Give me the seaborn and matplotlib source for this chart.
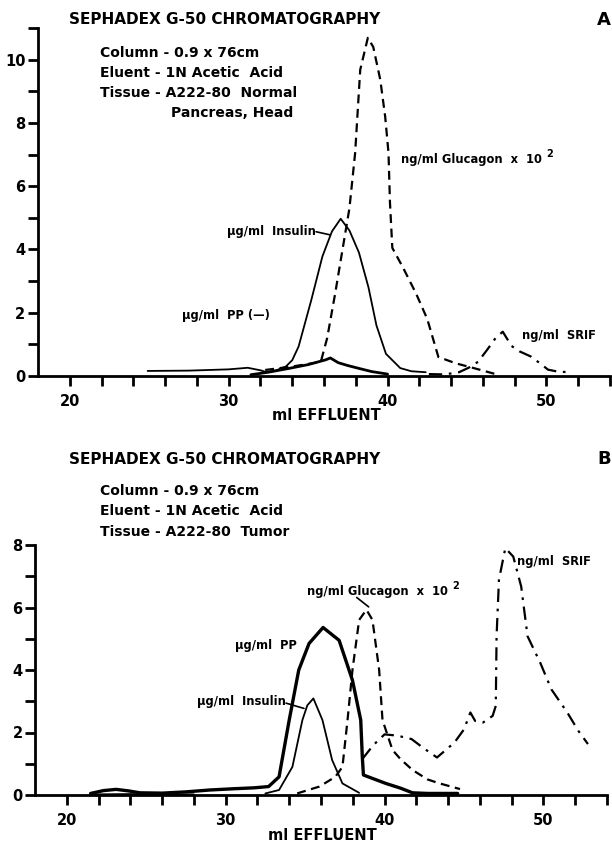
import numpy as np
import pandas as pd
import matplotlib.pyplot as plt
import seaborn as sns
from matplotlib.ticker import MultipleLocator, FixedLocator

sns.set_style("ticks")
plt.rcParams['font.family'] = ['DejaVu Sans']
plt.rcParams['font.weight'] = 'bold'

# ---- Panel A: normal pancreas ----
a_glu_x = [32.3, 34.0, 35.0, 35.8, 36.2, 36.7, 37.2, 37.6, 37.96, 38.28, 38.76, 39.1, 39.54,
           39.85, 40.06, 40.15, 40.3, 41.0, 41.8, 42.5, 43.2, 44.3, 45.5, 46.8]
a_glu_y = [0.19, 0.3, 0.38, 0.45, 1.2, 2.6, 4.1, 5.3, 7.05, 9.68, 10.69, 10.4, 9.37,
           8.2, 7.05, 5.5, 4.05, 3.4, 2.6, 1.8, 0.6, 0.4, 0.24, 0.06]
a_ins_x = [24.9, 27.5, 30.0, 31.2, 32.0, 32.4, 33.0, 33.6, 34.0, 34.4, 35.2, 35.9, 36.5,
           37.05, 37.6, 38.2, 38.8, 39.3, 39.9, 40.8, 41.5, 42.4]
a_ins_y = [0.16, 0.17, 0.21, 0.26, 0.18, 0.12, 0.18, 0.3, 0.5, 0.93, 2.4, 3.78, 4.57,
           4.97, 4.6, 3.9, 2.8, 1.6, 0.7, 0.25, 0.15, 0.12]
a_pp_x = [31.4, 32.5, 33.8, 35.0, 36.1, 36.4, 36.9, 37.5, 38.2, 39.0, 40.0]
a_pp_y = [0.04, 0.12, 0.24, 0.36, 0.51, 0.57, 0.42, 0.33, 0.24, 0.14, 0.06]
a_srif_x = [42.6, 43.6, 44.5, 45.1, 45.7, 46.3, 46.8, 47.25, 47.8, 48.3, 49.0, 49.6, 50.1,
            50.7, 51.4]
a_srif_y = [0.06, 0.05, 0.12, 0.26, 0.45, 0.85, 1.2, 1.40, 0.95, 0.78, 0.62, 0.40, 0.20,
            0.14, 0.12]

# ---- Panel B: tumor ----
b_pp_x = [21.5, 22.3, 23.1, 23.9, 24.6, 26.0, 27.5, 29.0, 30.5, 31.8, 32.7, 33.36, 34.0,
          34.6, 35.25, 36.13, 37.14, 37.98, 38.5, 38.6, 38.67, 40.08, 41.0, 41.76, 42.7, 44.6]
b_pp_y = [0.05, 0.14, 0.18, 0.13, 0.07, 0.06, 0.1, 0.16, 0.2, 0.23, 0.27, 0.58, 2.4,
          4.0, 4.85, 5.36, 4.95, 3.67, 2.40, 1.22, 0.64, 0.37, 0.22, 0.07, 0.05, 0.05]
b_base_x = [21.5, 24.0, 28.0]
b_base_y = [0.02, 0.03, 0.02]
b_ins_x = [32.5, 33.36, 34.2, 34.83, 35.14, 35.52, 36.09, 36.7, 37.35, 38.4]
b_ins_y = [0.05, 0.16, 0.9, 2.4, 2.87, 3.09, 2.4, 1.12, 0.37, 0.07]
b_glu_x = [34.5, 35.9, 36.9, 37.35, 37.67, 37.98, 38.4, 38.86, 39.24, 39.66, 39.87, 40.5,
           41.0, 41.76, 42.7, 43.4, 44.75]
b_glu_y = [0.05, 0.27, 0.58, 0.9, 2.4, 4.0, 5.6, 5.93, 5.6, 4.0, 2.4, 1.44,
           1.15, 0.8, 0.5, 0.38, 0.19]
b_srif_x = [38.6, 39.3, 40.0, 40.8, 41.7, 42.4, 43.3, 44.4, 45.0, 45.4, 45.7, 46.2, 46.8,
            47.0, 47.05, 47.2, 47.6, 48.1, 48.6, 49.0, 49.8, 50.5, 51.5, 52.2, 52.8]
b_srif_y = [1.15, 1.6, 1.94, 1.9, 1.79, 1.52, 1.2, 1.68, 2.1, 2.64, 2.37, 2.32, 2.53,
            2.85, 5.08, 6.89, 7.9, 7.63, 6.67, 5.08, 4.23, 3.38, 2.64, 2.05, 1.63]

# leader lines from label to curve (data units)
a_ins_lead = ([35.5, 36.4], [4.56, 4.46])
b_ins_lead = ([33.8, 34.93], [2.94, 2.77])
b_glu_lead = ([38.25, 39.0], [6.32, 6.02])

W, H = 612, 848
fig = plt.figure(figsize=(W / 100, H / 100), dpi=100)
axA = fig.add_axes([38 / W, 1 - 376 / H, 572 / W, 348 / H])
axB = fig.add_axes([35 / W, 1 - 795 / H, 572 / W, 250 / H])


def curve(ax, x, y, lw, dashes=None):
    df = pd.DataFrame({'x': x, 'y': y})
    sns.lineplot(data=df, x='x', y='y', sort=False, estimator=None, ax=ax,
                 color='black', linewidth=lw)
    if dashes is not None:
        ax.lines[-1].set_dashes(dashes)


def style(ax, ymax):
    ax.set_xlim(18, 54)
    ax.set_ylim(0, ymax)
    sns.despine(ax=ax)
    for s in ['left', 'bottom']:
        ax.spines[s].set_linewidth(2)
        ax.spines[s].set_color('black')
    ax.xaxis.set_major_locator(FixedLocator([20, 30, 40, 50]))
    ax.xaxis.set_minor_locator(FixedLocator(list(range(22, 55, 2))))
    ax.yaxis.set_major_locator(MultipleLocator(2))
    ax.yaxis.set_minor_locator(MultipleLocator(1))
    ax.tick_params(which='both', direction='out', length=7, width=2, labelsize=10.5,
                   color='black', labelcolor='black')
    ax.tick_params(axis='x', pad=6)
    ax.tick_params(axis='y', pad=2)
    ax.set_xlabel('')
    ax.set_ylabel('')
    for lab in ax.get_xticklabels() + ax.get_yticklabels():
        lab.set_fontweight('bold')


curve(axA, a_ins_x, a_ins_y, 1.3)
curve(axA, a_pp_x, a_pp_y, 2.0)
curve(axA, a_glu_x, a_glu_y, 1.6, (4, 2.5))
curve(axA, a_srif_x, a_srif_y, 1.6, (6, 3, 1.2, 3))
curve(axA, *a_ins_lead, 1.2)
style(axA, 11)

curve(axB, b_base_x, b_base_y, 1.3)
curve(axB, b_ins_x, b_ins_y, 1.3)
curve(axB, b_pp_x, b_pp_y, 2.4)
curve(axB, b_glu_x, b_glu_y, 1.6, (4, 2.5))
curve(axB, b_srif_x, b_srif_y, 1.6, (6, 3, 1.2, 3))
curve(axB, *b_ins_lead, 1.2)
curve(axB, *b_glu_lead, 1.2)
style(axB, 8)


def txt(x, y, s, size, ha='left'):
    return fig.text(x / W, 1 - y / H, s, fontsize=size, fontweight='bold', ha=ha,
                    va='center', color='black')


def glucagon_label(x, y):
    # label, then a raised "2" just after its right edge
    t = txt(x, y, 'ng/ml Glucagon  x  10', 8.3)
    fig.canvas.draw()
    x1 = t.get_window_extent().x1
    txt(x1 + 4, y - 6, '2', 7)


for top, panel in [(0, 'A'), (439, 'B')]:
    txt(69, 20 + top, 'SEPHADEX G-50 CHROMATOGRAPHY', 11)
    txt(611, 20 + top, panel, 13, ha='right')

txt(100, 53, 'Column - 0.9 x 76cm', 10)
txt(100, 73, 'Eluent - 1N Acetic  Acid', 10)
txt(100, 93, 'Tissue - A222-80  Normal', 10)
txt(171, 113, 'Pancreas, Head', 10)
glucagon_label(401, 160)
txt(316, 231, 'µg/ml  Insulin', 8.3, ha='right')
txt(182, 315, 'µg/ml  PP (—)', 8.3)
txt(522, 336, 'ng/ml  SRIF', 8.3)
txt(326, 416, 'ml EFFLUENT', 10.5, ha='center')

txt(100, 491, 'Column - 0.9 x 76cm', 10)
txt(100, 511, 'Eluent - 1N Acetic  Acid', 10)
txt(100, 532, 'Tissue - A222-80  Tumor', 10)
glucagon_label(307, 592)
txt(235, 645, 'µg/ml  PP', 8.3)
txt(286, 701, 'µg/ml  Insulin', 8.3, ha='right')
txt(517, 562, 'ng/ml  SRIF', 8.3)
txt(322, 836, 'ml EFFLUENT', 10.5, ha='center')

fig.savefig('out.png', dpi=100)
